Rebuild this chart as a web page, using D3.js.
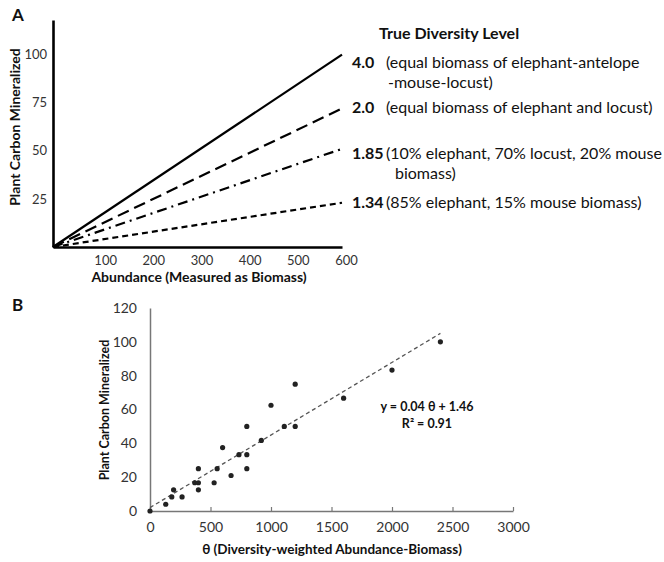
<!DOCTYPE html>
<html>
<head>
<meta charset="utf-8">
<script src="https://cdn.jsdelivr.net/npm/d3@7"></script>
<style>
  body { margin: 0; background: #fff; }
  svg text { font-family: Lato, "Open Sans", sans-serif; }
</style>
</head>
<body>
<svg id="chart" width="664" height="562"></svg>
<script>
// panel A: diversity lines
const diversityLevels = ["4.0", "2.0", "1.85", "1.34"];
const levelDescriptions = [
  ["(equal biomass of elephant-antelope", "-mouse-locust)"],
  ["(equal biomass of elephant and locust)"],
  ["(10% elephant, 70% locust, 20% mouse", "biomass)"],
  ["(85% elephant, 15% mouse biomass)"]
];
const abundanceEnd = 600;
const carbonAtEnd = [100, 72, 51, 23];
const aTicksX = [100, 200, 300, 400, 500, 600];
const aTicksY = [25, 50, 75, 100];

// panel B: scatter
const theta = [0, 130, 180, 195, 265, 370, 400, 400, 400, 530, 555, 600, 670, 735,
  800, 800, 800, 920, 1000, 1110, 1200, 1200, 1600, 2000, 2400];
const carbon = [0, 4, 8.3, 12.5, 8.3, 16.7, 16.7, 12.5, 25, 16.7, 25, 37.5, 21, 33.3,
  33.3, 50, 25, 41.7, 62.5, 50, 75, 50, 66.7, 83.3, 100];
const trendTheta = [0, 2400];
const trendCarbon = [2, 105];
const bTicksX = [0, 500, 1000, 1500, 2000, 2500, 3000];
const bTicksY = [0, 20, 40, 60, 80, 100, 120];

const svg = d3.select("#chart");

// ---------- panel A ----------
const xA = d3.scaleLinear().domain([0, 600]).range([53, 342]);
const yA = d3.scaleLinear().domain([0, 118]).range([247, 20]);

const axA = svg.append("g").attr("transform", "translate(0,247)")
  .call(d3.axisBottom(xA).tickValues(aTicksX).tickSize(0).tickPadding(9));
const ayA = svg.append("g").attr("transform", `translate(${xA(0)},0)`)
  .call(d3.axisLeft(yA).tickValues(aTicksY).tickSize(0).tickPadding(6));
[axA, ayA].forEach(g => {
  g.select(".domain").attr("stroke", "#000").attr("stroke-width", 2.6);
  g.selectAll("text").attr("font-size", 13).attr("fill", "#333")
    .attr("font-family", "Lato, sans-serif");
});
axA.selectAll(".tick text").attr("dx", 4);

const dashes = [null, "12,6", "10,5,2,5", "6,4"];
const lineA = d3.line().x(d => xA(d[0])).y(d => yA(d[1]));
carbonAtEnd.forEach((v, i) => {
  svg.append("path")
    .attr("d", lineA([[0, 0], [abundanceEnd, v]]))
    .attr("fill", "none")
    .attr("stroke", "#000")
    .attr("stroke-width", 2.2)
    .attr("stroke-dasharray", dashes[i]);
});

svg.append("text").attr("x", 379).attr("y", 39)
  .attr("font-size", 16).attr("font-weight", "bold").attr("fill", "#111")
  .text("True Diversity Level");

// legend text sits a little below the line ends for the steeper lines
const labelNudge = [8, 0, 5, 0];
diversityLevels.forEach((lvl, i) => {
  const cy = yA(carbonAtEnd[i]) + labelNudge[i];
  svg.append("text").attr("x", 352).attr("y", cy + 5)
    .attr("font-size", 16).attr("font-weight", "bold").attr("fill", "#111")
    .text(lvl);
  levelDescriptions[i].forEach((line, j) => {
    svg.append("text")
      .attr("x", j === 0 ? 386 : (i === 0 ? 388 : 395))
      .attr("y", cy + 5 + j * 20)
      .attr("font-size", 16).attr("fill", "#111")
      .text(line);
  });
});

svg.append("text").attr("x", 12).attr("y", 21)
  .attr("font-size", 17).attr("font-weight", "bold").attr("fill", "#111").text("A");
svg.append("text").attr("transform", "translate(20,127) rotate(-90)")
  .attr("text-anchor", "middle").attr("font-size", 14).attr("font-weight", "bold")
  .attr("fill", "#111").text("Plant Carbon Mineralized");
svg.append("text").attr("x", 199).attr("y", 282)
  .attr("text-anchor", "middle").attr("font-size", 14).attr("font-weight", "bold")
  .attr("fill", "#111").text("Abundance (Measured as Biomass)");

// ---------- panel B ----------
const xB = d3.scaleLinear().domain([0, 3000]).range([150, 513]);
const yB = d3.scaleLinear().domain([0, 120]).range([511, 308]);

const axB = svg.append("g").attr("transform", "translate(0,511)")
  .call(d3.axisBottom(xB).tickValues(bTicksX).tickFormat(d3.format("d"))
    .tickSizeInner(-4).tickSizeOuter(0).tickPadding(11));
const ayB = svg.append("g").attr("transform", "translate(150,0)")
  .call(d3.axisLeft(yB).tickValues(bTicksY).tickSize(0).tickPadding(13));
[axB, ayB].forEach(g => {
  g.select(".domain").attr("stroke", "#777").attr("stroke-width", 1.5);
  g.selectAll(".tick line").attr("stroke", "#777").attr("stroke-width", 1.2);
  g.selectAll("text").attr("font-size", 14).attr("fill", "#333")
    .attr("font-family", "Lato, sans-serif");
});

svg.append("path")
  .attr("d", d3.line().x(d => xB(d[0])).y(d => yB(d[1]))(trendTheta.map((t, i) => [t, trendCarbon[i]])))
  .attr("fill", "none").attr("stroke", "#555").attr("stroke-width", 1.3)
  .attr("stroke-dasharray", "4,3");

svg.append("g").selectAll("circle")
  .data(theta.map((t, i) => [t, carbon[i]]))
  .join("circle")
  .attr("cx", d => xB(d[0])).attr("cy", d => yB(d[1]))
  .attr("r", 2.6).attr("fill", "#222");

svg.append("text").attr("x", 427).attr("y", 411)
  .attr("text-anchor", "middle").attr("font-size", 12.5).attr("font-weight", "bold")
  .attr("fill", "#111").text("y = 0.04 θ + 1.46");
svg.append("text").attr("x", 427).attr("y", 428)
  .attr("text-anchor", "middle").attr("font-size", 12.5).attr("font-weight", "bold")
  .attr("fill", "#111").text("R² = 0.91");

svg.append("text").attr("x", 12).attr("y", 311)
  .attr("font-size", 17).attr("font-weight", "bold").attr("fill", "#111").text("B");
svg.append("text").attr("transform", "translate(109,410) rotate(-90)")
  .attr("text-anchor", "middle").attr("font-size", 12.5).attr("font-weight", "bold")
  .attr("fill", "#111").text("Plant Carbon Mineralized");
svg.append("text").attr("x", 332).attr("y", 554)
  .attr("text-anchor", "middle").attr("font-size", 13.5).attr("font-weight", "bold")
  .attr("fill", "#111").text("θ (Diversity-weighted Abundance-Biomass)");
</script>
</body>
</html>
